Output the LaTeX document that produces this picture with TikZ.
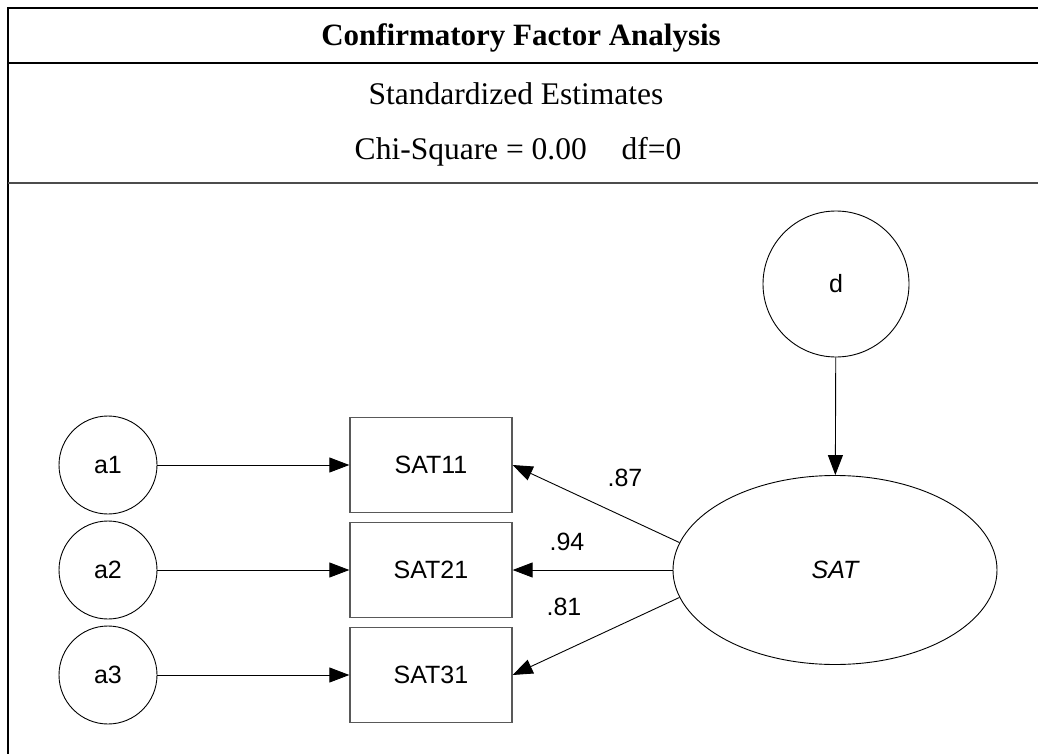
\documentclass[tikz,border=0pt]{standalone}
\usepackage{fontspec}
\setmainfont{Liberation Serif}
\newfontfamily\arialf{Liberation Sans}
\usetikzlibrary{arrows.meta,shapes.geometric}
\begin{document}
\begin{tikzpicture}[x=1pt,y=-1pt,
  lat/.style={circle,draw,line width=0.9pt,minimum size=98pt,inner sep=0pt,font=\arialf\fontsize{25}{29}\selectfont},
  obs/.style={rectangle,draw=black!65,line width=1.3pt,minimum width=162pt,minimum height=95pt,inner sep=0pt,font=\arialf\fontsize{25}{29}\selectfont},
  arr/.style={-{Triangle[length=20pt,width=15pt]},line width=0.9pt},
  lab/.style={inner sep=0pt,font=\arialf\fontsize{25}{29}\selectfont},
  head/.style={anchor=base,inner sep=0pt,font=\fontsize{31.5}{36}\selectfont},
  frame/.style={line width=2.5pt}]
\useasboundingbox (0,0) rectangle (1038,754);
\fill[white] (0,0) rectangle (1038,754);
% frame
\draw[frame] (1038,8) -- (8,8) -- (8,754);
\draw[frame] (8,63) -- (1038,63);
\draw[frame,black!70] (8,183) -- (1038,183);
% header texts
\node[head,font=\bfseries\fontsize{31}{36}\selectfont] (title) at (521,46) {Confirmatory Factor Analysis};
\node[head] (std) at (516,105) {Standardized Estimates};
\node[head] (chi) at (518,160) {Chi-Square = 0.00\hspace{1.1em}df=0};
% nodes
\node[lat] (a1) at (108,465) {a1};
\node[lat] (a2) at (108,570) {a2};
\node[lat] (a3) at (108,675) {a3};
\node[obs] (s11) at (431,465) {SAT11};
\node[obs] (s21) at (431,570) {SAT21};
\node[obs] (s31) at (431,675) {SAT31};
\node[lat,minimum size=146pt] (d) at (836,284) {d};
\node[ellipse,draw,line width=0.9pt,minimum width=324pt,minimum height=189pt,inner sep=0pt,font=\arialf\itshape\fontsize{25}{29}\selectfont] (sat) at (835,570) {SAT};
% connectors
\draw[arr] (a1) -- (s11);
\draw[arr] (a2) -- (s21);
\draw[arr] (a3) -- (s31);
\draw[arr] (d) -- (sat);
\draw[arr] (sat.170) -- (s11.east);
\draw[arr] (sat.west) -- (s21.east);
\draw[arr] (sat.190) -- (s31.east);
% loadings
\node[lab] (l1) at (625,478) {.87};
\node[lab] (l2) at (567,542) {.94};
\node[lab] (l3) at (564,607) {.81};
\end{tikzpicture}
\end{document}
